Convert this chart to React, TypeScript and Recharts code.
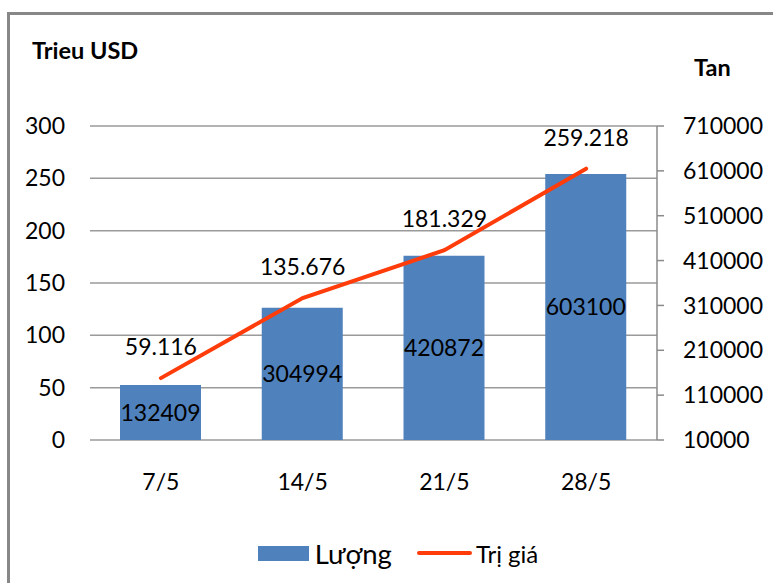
import React from 'react';
import { ComposedChart, Bar, Line, XAxis, YAxis, CartesianGrid, LabelList, Legend } from 'recharts';

const categories = ['7/5', '14/5', '21/5', '28/5'];
const luongValues = [132409, 304994, 420872, 603100];
const triGiaValues = [59.116, 135.676, 181.329, 259.218];
const triGiaLabels = ['59.116', '135.676', '181.329', '259.218'];
const leftTicks = [0, 50, 100, 150, 200, 250, 300];
const rightTicks = [10000, 110000, 210000, 310000, 410000, 510000, 610000, 710000];

const data = categories.map((c, i) => ({
  name: c,
  luong: luongValues[i],
  triGia: triGiaValues[i],
  triGiaLabel: triGiaLabels[i],
}));

const FONT = 'Lato, "Open Sans", sans-serif';
const BAR_COLOR = '#4F81BD';
const LINE_COLOR = '#FF3C0A';
const FS = 23;

const LegendContent = () => (
  <div style={{ display: 'flex', justifyContent: 'center', alignItems: 'center', height: 60, fontFamily: FONT, color: '#000', paddingLeft: 23 }}>
    <div style={{ display: 'flex', alignItems: 'center', marginRight: 25 }}>
      <span style={{ display: 'inline-block', width: 51, height: 15, background: BAR_COLOR, marginRight: 6 }} />
      <span style={{ fontSize: 27.5 }}>Lượng</span>
    </div>
    <div style={{ display: 'flex', alignItems: 'center' }}>
      <span style={{ display: 'inline-block', width: 55, height: 4, borderRadius: 2, background: LINE_COLOR, marginRight: 4 }} />
      <span style={{ fontSize: 24 }}>Trị giá</span>
    </div>
  </div>
);

export default function App() {
  return (
    <div style={{ position: 'absolute', left: 0, top: 0, width: 773, height: 583, overflow: 'hidden', background: '#fff', fontFamily: FONT }}>
      <div style={{ position: 'absolute', left: 7, top: 12, width: 800, height: 620, borderLeft: '3px solid #878787', borderTop: '3px solid #878787' }} />
      <div style={{ position: 'absolute', left: 32, top: 36, fontSize: 23.5, fontWeight: 700, color: '#000', whiteSpace: 'nowrap' }}>Trieu USD</div>
      <div style={{ position: 'absolute', left: 694, top: 53, fontSize: 23.5, fontWeight: 700, color: '#000', whiteSpace: 'nowrap' }}>Tan</div>
      <div style={{ position: 'absolute', left: 0, top: 0 }}>
        <ComposedChart width={773} height={583} data={data} margin={{ top: 126, right: 0, left: 0, bottom: 0 }}>
          <CartesianGrid yAxisId="left" vertical={false} stroke="#9a9a9a" strokeWidth={1.5} />
          <XAxis
            dataKey="name"
            height={83}
            axisLine={false}
            tickLine={false}
            tickSize={0}
            tickMargin={34}
            tick={{ fontSize: FS, fill: '#000', fontFamily: FONT }}
          />
          <YAxis
            yAxisId="left"
            orientation="left"
            width={90}
            domain={[0, 300]}
            ticks={leftTicks}
            axisLine={false}
            tickLine={false}
            tickSize={0}
            tickMargin={25}
            tick={{ fontSize: FS, fill: '#000', fontFamily: FONT }}
          />
          <YAxis
            yAxisId="right"
            orientation="right"
            width={116}
            domain={[10000, 710000]}
            ticks={rightTicks}
            axisLine={{ stroke: '#8a8a8a', strokeWidth: 1.5 }}
            tickLine={{ stroke: '#8a8a8a', strokeWidth: 1.5 }}
            tickSize={7}
            tickMargin={19}
            tick={{ fontSize: FS, fill: '#000', fontFamily: FONT }}
          />
          <Legend verticalAlign="bottom" height={60} content={<LegendContent />} />
          <Bar yAxisId="right" dataKey="luong" name="Lượng" fill={BAR_COLOR} barSize={81} isAnimationActive={false}>
            <LabelList dataKey="luong" position="center" fill="#000" fontSize={FS} fontFamily={FONT} />
          </Bar>
          <Line
            yAxisId="left"
            dataKey="triGia"
            name="Trị giá"
            type="linear"
            stroke={LINE_COLOR}
            strokeWidth={4}
            strokeLinecap="round"
            dot={false}
            activeDot={false}
            isAnimationActive={false}
          >
            <LabelList dataKey="triGiaLabel" position="top" offset={23} fill="#000" fontSize={FS} fontFamily={FONT} />
          </Line>
        </ComposedChart>
      </div>
    </div>
  );
}
